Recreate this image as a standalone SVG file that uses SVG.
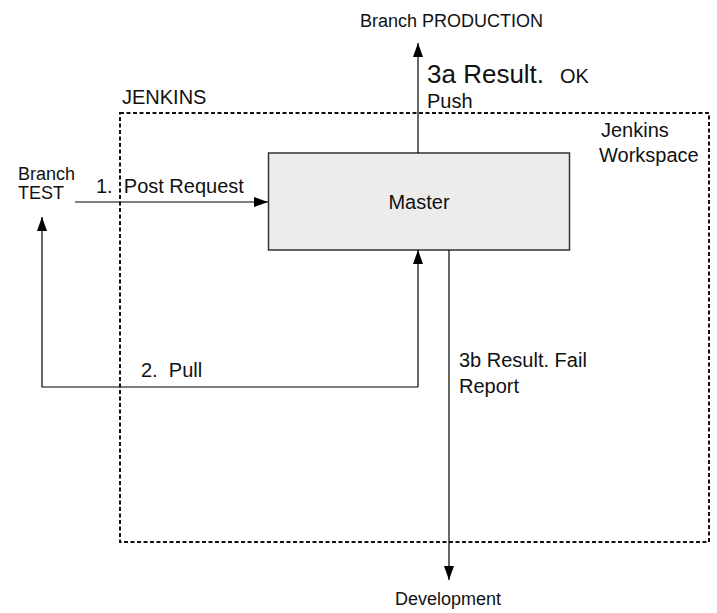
<svg xmlns="http://www.w3.org/2000/svg" width="717" height="613" viewBox="0 0 717 613">
<style>
text{font-family:"Liberation Sans",Arial,sans-serif;fill:#111}
.t18{font-size:18px}
.t20{font-size:20px}
.conn{fill:none;stroke:#000;stroke-width:1.2}
.boundary{fill:none;stroke:#111;stroke-width:2;stroke-dasharray:4 2.5}
</style>
<defs>
<marker id="arrow" markerUnits="userSpaceOnUse" markerWidth="15" markerHeight="11" refX="14" refY="5" orient="auto">
<path d="M0,0 L14,5 L0,10 Z" fill="#000"/>
</marker>
</defs>
<rect width="717" height="613" fill="#fff"/>
<g id="jenkins-workspace">
<rect class="boundary" x="120" y="113" width="589" height="429"/>
<text class="t20" x="122" y="104">JENKINS</text>
<text class="t20" x="601" y="137">Jenkins</text>
<text class="t20" x="599" y="162">Workspace</text>
</g>
<g id="master">
<rect x="268.5" y="153" width="301" height="97" fill="#ececec" stroke="#333" stroke-width="1.5"/>
<text class="t20" x="419" y="209" text-anchor="middle">Master</text>
</g>
<g id="branch-test">
<text class="t18" x="18" y="180">Branch</text>
<text class="t18" x="18" y="199">TEST</text>
</g>
<g id="branch-production">
<text class="t18" x="360" y="27">Branch PRODUCTION</text>
</g>
<g id="development">
<text class="t18" x="448" y="605" text-anchor="middle">Development</text>
</g>
<g id="connectors">
<path class="conn" d="M75,202 H268" marker-end="url(#arrow)"/>
<text class="t20" x="96" y="193" xml:space="preserve">1.  Post Request</text>
<path class="conn" d="M418,387 V250" marker-end="url(#arrow)"/>
<path class="conn" d="M418,387 H42 V217" marker-end="url(#arrow)"/>
<text class="t20" x="141" y="377" xml:space="preserve">2.  Pull</text>
<path class="conn" d="M418,153 V43" marker-end="url(#arrow)"/>
<text x="427" y="83" style="font-size:26px">3a Result.</text>
<text class="t20" x="560" y="83">OK</text>
<text class="t20" x="427" y="108">Push</text>
<path class="conn" d="M449,250 V580" marker-end="url(#arrow)"/>
<text class="t20" x="459" y="367">3b Result. Fail</text>
<text class="t20" x="459" y="393">Report</text>
</g>
</svg>
